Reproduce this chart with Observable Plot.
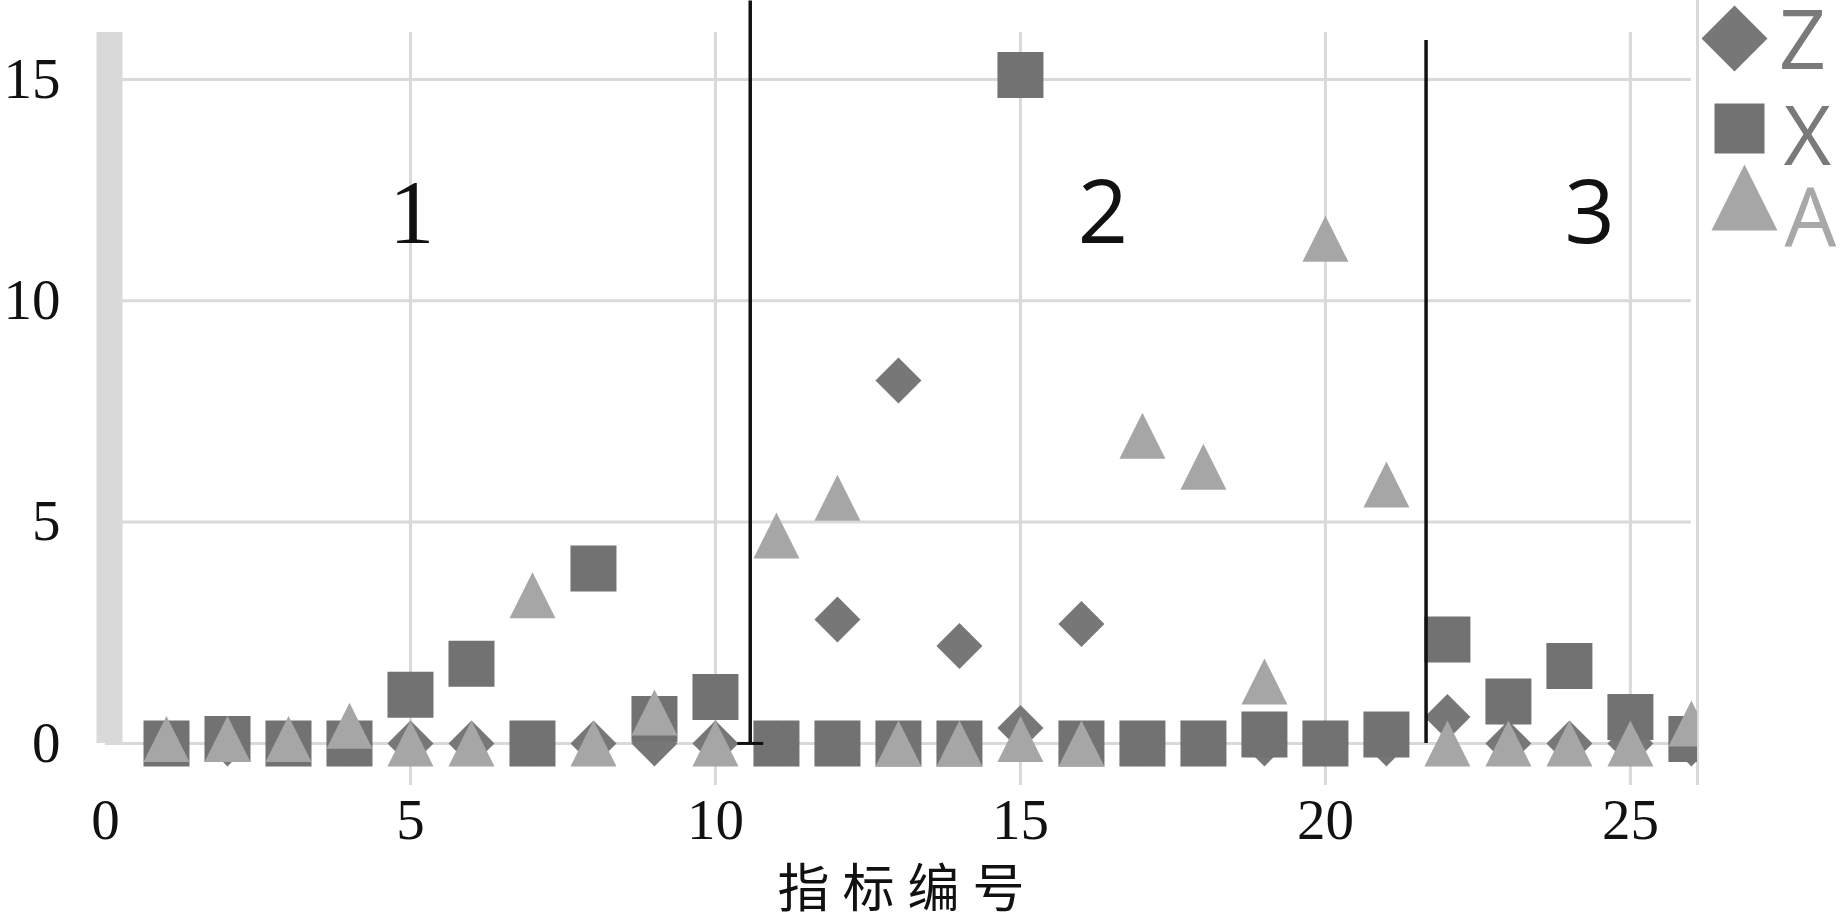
<!DOCTYPE html>
<html>
<head>
<meta charset="utf-8">
<script src="https://cdn.jsdelivr.net/npm/d3@7"></script>
<script src="https://cdn.jsdelivr.net/npm/@observablehq/plot@0.6"></script>
<style>
  html, body { margin: 0; padding: 0; background: #fff; }
  #chart { width: 1843px; height: 917px; }
</style>
</head>
<body>
<div id="chart"></div>
<script>
// ---- data ----
const indexNo = [1,2,3,4,5,6,7,8,9,10,11,12,13,14,15,16,17,18,19,20,21,22,23,24,25,26];
const seriesZ = [0,0,0,0,0,0,0,0,0,0,0,2.8,8.2,2.2,0.35,2.7,0,0,0,0,0,0.6,0,0,0,0];
const seriesX = [0,0.1,0,0,1.1,1.8,0,3.95,0.55,1.05,0,0,0,0,15.1,0,0,0,0.2,0,0.2,2.35,0.95,1.75,0.6,0.1];
const seriesA = [0.1,0.1,0.1,0.4,0,0,3.35,0,0.7,0,4.7,5.55,0,0,0.1,0,6.95,6.25,1.4,11.4,5.85,0,0,0,0,0.45];
const seriesNames = ["Z", "X", "A"];
const xTicks = [0, 5, 10, 15, 20, 25];
const yTicks = [0, 5, 10, 15];
const xGrid = [5, 10, 15, 20, 25];
const xDomain = [0, 26.1];
const yDomain = [-0.95, 16.06];
const regionBounds = [10.57, 21.65];
const regionBoundTops = [16.95, 16.06];
const regionNames = ["1", "2", "3"];
const regionCenters = [5.02, 16.35, 24.33];
const regionLabelY = 11.95;
const xLabel = "指标编号";

// ---- custom symbols (bbox-centred, like spreadsheet markers) ----
const symSquare = { draw(ctx, size) { const s = Math.sqrt(size) / 2; ctx.rect(-s, -s, 2 * s, 2 * s); } };
const symDiamond = { draw(ctx, size) { const s = Math.sqrt(size) / 2; ctx.moveTo(0, -s); ctx.lineTo(s, 0); ctx.lineTo(0, s); ctx.lineTo(-s, 0); ctx.closePath(); } };
const symTriangle = { draw(ctx, size) { const s = Math.sqrt(size) / 2; ctx.moveTo(0, -s); ctx.lineTo(s, s); ctx.lineTo(-s, s); ctx.closePath(); } };
const symCap = { draw(ctx, size) { const s = Math.sqrt(size) / 2; ctx.moveTo(-s, 0); ctx.lineTo(s, 0); } };

const toRows = vals => indexNo.map((x, i) => ({x, y: vals[i]}));
const rowsZ = toRows(seriesZ), rowsX = toRows(seriesX), rowsA = toRows(seriesA);
const bounds = regionBounds.map((x, i) => ({x, top: regionBoundTops[i]}));
const regions = regionNames.map((t, i) => ({t, x: regionCenters[i], y: regionLabelY}));

const colZ = "#777777", colX = "#727272", colA = "#a6a6a6";
const grid = "#d9d9d9";
const rSym = 46 / Math.sqrt(Math.PI);
const serif = "Liberation Serif, Times New Roman, serif";
const sans = "Open Sans, Lato, Noto Sans, sans-serif";

const chart = Plot.plot({
  width: 1843,
  height: 917,
  marginLeft: 105,
  marginRight: 146,
  marginTop: 32,
  marginBottom: 132,
  x: {domain: xDomain},
  y: {domain: yDomain},
  style: {background: "#fff", fontFamily: serif, fontSize: "57px", color: "#111", overflow: "visible"},
  marks: [
    // grid
    Plot.ruleX(xGrid, {stroke: grid, strokeWidth: 3}),
    Plot.ruleY(yTicks, {x1: xDomain[0], x2: 26, stroke: grid, strokeWidth: 3}),
    Plot.ruleX([xDomain[1]], {stroke: grid, strokeWidth: 3, insetTop: -32}),
    Plot.ruleX([xDomain[0]], {y1: 0, y2: yDomain[1], stroke: grid, strokeWidth: 26, dx: 4}),
    // axes
    Plot.axisX({ticks: xTicks, tickSize: 0, tickPadding: 13, label: null, fontSize: 57, fontFamily: serif, fill: "#111"}),
    Plot.axisY({ticks: yTicks, tickSize: 0, tickPadding: 45, label: null, fontSize: 57, fontFamily: serif, fill: "#111"}),
    // data
    Plot.dot(rowsZ, {x: "x", y: "y", symbol: symDiamond, r: rSym, fill: colZ, stroke: "none", clip: true}),
    Plot.dot(rowsX, {x: "x", y: "y", symbol: symSquare, r: rSym, fill: colX, stroke: "none", clip: true}),
    Plot.dot(rowsA, {x: "x", y: "y", symbol: symTriangle, r: rSym, fill: colA, stroke: "none", clip: true}),
    // region boundaries
    Plot.ruleX(bounds, {x: "x", y1: 0, y2: "top", stroke: "#111", strokeWidth: 3.5, insetBottom: -8}),
    Plot.dot(bounds.slice(0, 1), {x: "x", y: 0, symbol: symCap, r: 26 / Math.sqrt(Math.PI), stroke: "#111", strokeWidth: 3, fill: "none"}),
    // region labels
    Plot.text(regions.slice(0, 1), {x: "x", y: "y", text: "t", fontFamily: serif, fontSize: 90, fill: "#111", lineAnchor: "middle"}),
    Plot.text(regions.slice(1), {x: "x", y: "y", text: "t", fontFamily: sans, fontSize: 88, fill: "#111", lineAnchor: "middle"}),
    // x axis label
    Plot.text([xLabel], {text: d => d, frameAnchor: "bottom", textAnchor: "middle", dy: 105, dx: 6, fontFamily: "Noto Sans CJK SC", fontSize: 52, fill: "#111", lineAnchor: "middle"}),
    // legend
    Plot.dot([seriesNames[0]], {frameAnchor: "top-right", dx: 37, dy: 6, symbol: symDiamond, r: 66 / Math.sqrt(Math.PI), fill: colZ, stroke: "none"}),
    Plot.dot([seriesNames[1]], {frameAnchor: "top-right", dx: 42, dy: 96, symbol: symSquare, r: 50 / Math.sqrt(Math.PI), fill: colX, stroke: "none"}),
    Plot.dot([seriesNames[2]], {frameAnchor: "top-right", dx: 47, dy: 165, symbol: symTriangle, r: 66 / Math.sqrt(Math.PI), fill: colA, stroke: "none"}),
    Plot.text([seriesNames[0]], {text: d => d, frameAnchor: "top-right", textAnchor: "middle", dx: 105, dy: 10, fontFamily: sans, fontSize: 82, fill: "#7a7a7a", lineAnchor: "middle"}),
    Plot.text([seriesNames[1]], {text: d => d, frameAnchor: "top-right", textAnchor: "middle", dx: 110, dy: 106, fontFamily: sans, fontSize: 82, fill: "#7a7a7a", lineAnchor: "middle"}),
    Plot.text([seriesNames[2]], {text: d => d, frameAnchor: "top-right", textAnchor: "middle", dx: 113, dy: 188, fontFamily: sans, fontSize: 82, fill: "#a8a8a8", lineAnchor: "middle"})
  ]
});

d3.select(chart).selectAll("text").filter(function() { return this.textContent === xLabel; }).attr("letter-spacing", "13px");
document.getElementById("chart").appendChild(chart);
</script>
</body>
</html>
